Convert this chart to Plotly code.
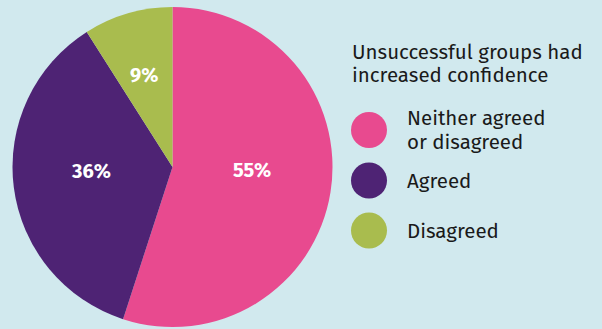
import math
import plotly.graph_objects as go

categories = ["Neither agreed<br>or disagreed", "Agreed", "Disagreed"]
values = [55, 36, 9]
colors = ["#e84a8f", "#4e2374", "#a9bc4e"]
legend_title = "Unsuccessful groups had<br>increased confidence"

W, H = 602, 329
BG = "#d1e9ee"
FONT = "Fira Sans, Open Sans, sans-serif"
TXT = "#1a1a1a"

# pie geometry (pixels)
CX, CY, R = 172.5, 167, 160
# label placement styling: radial fraction and angular nudge (degrees)
label_rfrac = [0.50, 0.51, 0.60]
label_nudge = [-6.6, 4.7, -1.2]

fig = go.Figure()
fig.add_trace(go.Pie(
    labels=[c.replace("<br>", " ") for c in categories],
    values=values,
    sort=False,
    direction="clockwise",
    rotation=0,
    marker=dict(colors=colors, line=dict(width=0)),
    textinfo="none",
    showlegend=False,
    hoverinfo="label+percent",
    domain=dict(x=[(CX - R) / W, (CX + R) / W], y=[1 - (CY + R) / H, 1 - (CY - R) / H]),
))

annotations = []
shapes = []

# slice labels, placed around the mid-angle of each slice
total = sum(values)
cum = 0
for v, rf, nd in zip(values, label_rfrac, label_nudge):
    mid = (cum + v / 2) / total * 2 * math.pi + math.radians(nd)
    cum += v
    px = CX + rf * R * math.sin(mid)
    py = CY - rf * R * math.cos(mid)
    annotations.append(dict(
        x=px / W, y=1 - py / H, xref="paper", yref="paper",
        xanchor="center", yanchor="middle",
        text="<b>%d%%</b>" % v, showarrow=False,
        font=dict(family=FONT, size=20, color="white"),
    ))

# legend title (one annotation per line for tight leading)
for i, line in enumerate(legend_title.split("<br>")):
    annotations.append(dict(
        x=350 / W, y=1 - (52 + 23 * i) / H, xref="paper", yref="paper",
        xanchor="left", yanchor="middle", align="left",
        text=line, showarrow=False,
        font=dict(family=FONT, size=20.5, color=TXT),
    ))

item_y = [130, 180.5, 230.5]
for cat, col, yy in zip(categories, colors, item_y):
    r = 18
    shapes.append(dict(
        type="circle", xref="paper", yref="paper",
        x0=(369 - r) / W, x1=(369 + r) / W,
        y0=1 - (yy + r) / H, y1=1 - (yy - r) / H,
        fillcolor=col, line=dict(width=0),
    ))
    lines = cat.split("<br>")
    n = len(lines)
    for j, line in enumerate(lines):
        ly = yy + (j - (n - 1) / 2) * 24
        annotations.append(dict(
            x=405 / W, y=1 - ly / H, xref="paper", yref="paper",
            xanchor="left", yanchor="middle", align="left",
            text=line, showarrow=False,
            font=dict(family=FONT, size=20.5, color=TXT),
        ))

fig.update_layout(
    width=W, height=H,
    margin=dict(l=0, r=0, t=0, b=0),
    paper_bgcolor=BG, plot_bgcolor=BG,
    annotations=annotations, shapes=shapes,
)

fig.write_html(
    "out.html",
    config={"displayModeBar": False},
    post_script="document.body.style.margin='0';document.body.style.background='%s';" % BG,
)
